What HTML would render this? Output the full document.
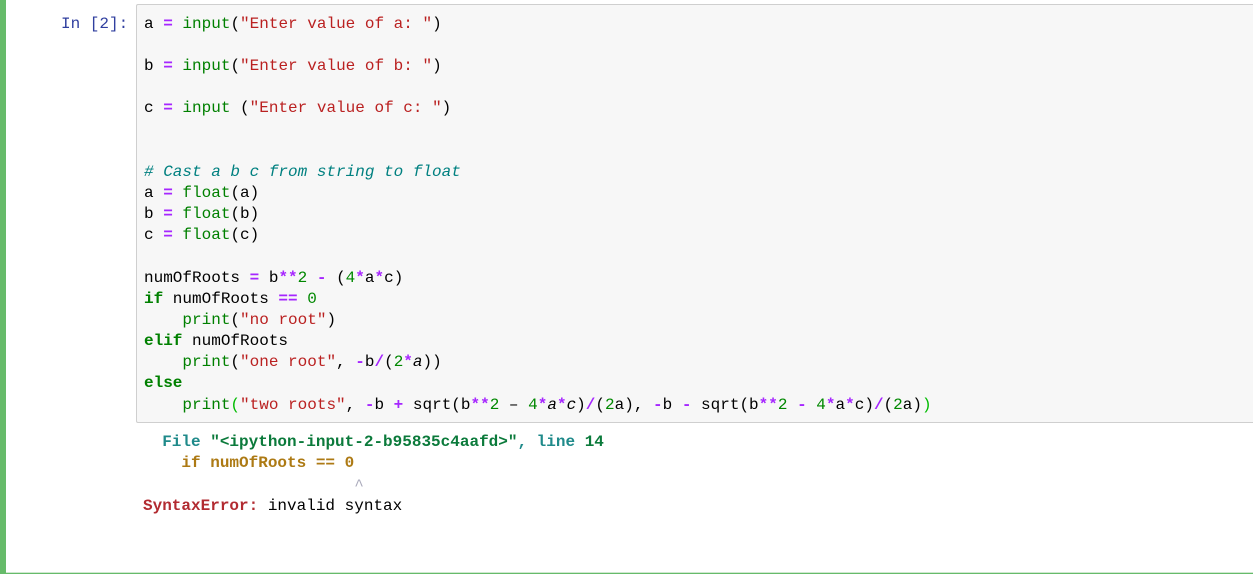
<!DOCTYPE html>
<html>
<head>
<meta charset="utf-8">
<style>
html,body{margin:0;padding:0;background:#fff;}
#p{position:relative;width:1253px;height:579px;overflow:hidden;background:#fff;font-family:"Liberation Mono",monospace;font-size:16px;color:#000;}
.l{position:absolute;left:144px;height:21px;line-height:21px;white-space:pre;}
.o{color:#a626ff;font-weight:bold}
.k{color:#008000;font-weight:bold}
.b{color:#008000}
.n{color:#008800}
.s{color:#ba2121}
.c{color:#008080;font-style:italic}
.i{font-style:italic}
.g{color:#00bb00}
</style>
</head>
<body>
<div id="p">
<div style="position:absolute;left:0;top:0;width:6px;height:574px;background:#66bb6a"></div>
<div style="position:absolute;left:6px;top:572px;width:1247px;height:1px;background:#cfe8d0"></div>
<div style="position:absolute;left:6px;top:573px;width:1247px;height:1px;background:#66bb6a"></div>
<div style="position:absolute;left:136px;top:4px;width:1117px;height:417px;background:#f7f7f7;border:1px solid #cfcfcf;border-right:0;border-radius:2px 0 0 2px"></div>
<div class="l" style="left:61px;top:14px;color:#303f9f">In [2]:</div>
<div class="l" style="top:14px">a <span class="o">=</span> <span class="b">input</span>(<span class="s">"Enter value of a: "</span>)</div>
<div class="l" style="top:56px">b <span class="o">=</span> <span class="b">input</span>(<span class="s">"Enter value of b: "</span>)</div>
<div class="l" style="top:98px">c <span class="o">=</span> <span class="b">input</span> (<span class="s">"Enter value of c: "</span>)</div>
<div class="l c" style="top:162px"># Cast a b c from string to float</div>
<div class="l" style="top:183px">a <span class="o">=</span> <span class="b">float</span>(a)</div>
<div class="l" style="top:204px">b <span class="o">=</span> <span class="b">float</span>(b)</div>
<div class="l" style="top:225px">c <span class="o">=</span> <span class="b">float</span>(c)</div>
<div class="l" style="top:268px">numOfRoots <span class="o">=</span> b<span class="o">**</span><span class="n">2</span> <span class="o">-</span> (<span class="n">4</span><span class="o">*</span>a<span class="o">*</span>c)</div>
<div class="l" style="top:289px"><span class="k">if</span> numOfRoots <span class="o">==</span> <span class="n">0</span></div>
<div class="l" style="top:310px">    <span class="b">print</span>(<span class="s">"no root"</span>)</div>
<div class="l" style="top:331px"><span class="k">elif</span> numOfRoots</div>
<div class="l" style="top:352px">    <span class="b">print</span>(<span class="s">"one root"</span>, <span class="o">-</span>b<span class="o">/</span>(<span class="n">2</span><span class="o">*</span><span class="i">a</span>))</div>
<div class="l" style="top:373px"><span class="k">else</span></div>
<div class="l" style="top:395px">    <span class="b">print</span><span class="g">(</span><span class="s">"two roots"</span>, <span class="o">-</span>b <span class="o">+</span> sqrt(b<span class="o">**</span><span class="n">2</span> – <span class="n">4</span><span class="o">*</span><span class="i">a</span><span class="o">*</span><span class="i">c</span>)<span class="o">/</span>(<span class="n">2</span>a), <span class="o">-</span>b <span class="o">-</span> sqrt(b<span class="o">**</span><span class="n">2</span> <span class="o">-</span> <span class="n">4</span><span class="o">*</span>a<span class="o">*</span>c)<span class="o">/</span>(<span class="n">2</span>a)<span class="g">)</span></div>
<div class="l" style="left:143px;top:432px;font-weight:bold">  <span style="color:#1f8a8a">File </span><span style="color:#0b7a3b">"&lt;ipython-input-2-b95835c4aafd&gt;"</span><span style="color:#1f8a8a">, line </span><span style="color:#0b7a3b">14</span></div>
<div class="l" style="left:143px;top:453px;font-weight:bold;color:#ad7a14">    if numOfRoots == 0</div>
<div class="l" style="left:143px;top:476px;color:#aaaabb">                      ^</div>
<div class="l" style="left:143px;top:496px"><span style="color:#b22b31;font-weight:bold">SyntaxError:</span> invalid syntax</div>
</div>
</body>
</html>
